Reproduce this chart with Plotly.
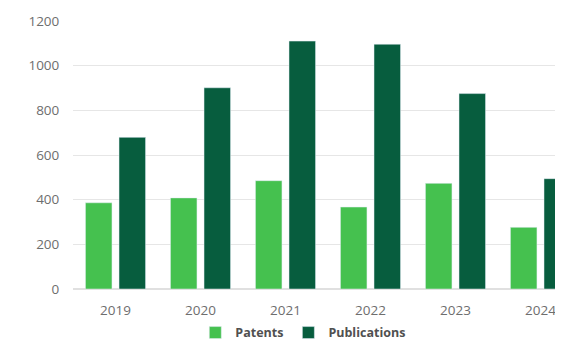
import plotly.graph_objects as go

years = ["2019", "2020", "2021", "2022", "2023", "2024"]
patents = [386, 408, 485, 367, 473, 276]
publications = [679, 901, 1110, 1096, 875, 494]
y_ticks = [0, 200, 400, 600, 800, 1000, 1200]

light_green = "#45C14F"
dark_green = "#075D3E"

fig = go.Figure()
fig.add_trace(go.Bar(x=years, y=patents, name="<b>Patents</b>", marker_color=light_green))
fig.add_trace(go.Bar(x=years, y=publications, name="<b>Publications</b>", marker_color=dark_green))

fig.update_layout(
    width=555, height=333,
    margin=dict(l=65, r=0, t=13, b=52, autoexpand=False),
    paper_bgcolor="white", plot_bgcolor="white",
    barmode="group", bargap=0.21, bargroupgap=0.21,
    font=dict(family="Open Sans, sans-serif", color="#6b6b6b", size=13),
    showlegend=True,
    legend=dict(orientation="h", x=0.47, xanchor="center", y=-0.108, yanchor="top",
                font=dict(size=12.5, color="#505050"),
                itemwidth=30, traceorder="normal"),
)
fig.update_xaxes(range=[-0.5, 5.265], showgrid=False, showline=False, zeroline=False,
                 ticks="outside", ticklen=9, tickcolor="rgba(0,0,0,0)",
                 tickfont=dict(size=13.5, color="#6e6e6e"))
fig.update_yaxes(range=[0, 1200], tickvals=y_ticks, showgrid=True, gridcolor="#e6e6e6",
                 gridwidth=1, zeroline=True, zerolinecolor="#e0e0e0", showline=False,
                 ticks="outside", ticklen=10, tickcolor="rgba(0,0,0,0)",
                 tickfont=dict(size=13.5, color="#6e6e6e"))

fig.write_html("out.html")
